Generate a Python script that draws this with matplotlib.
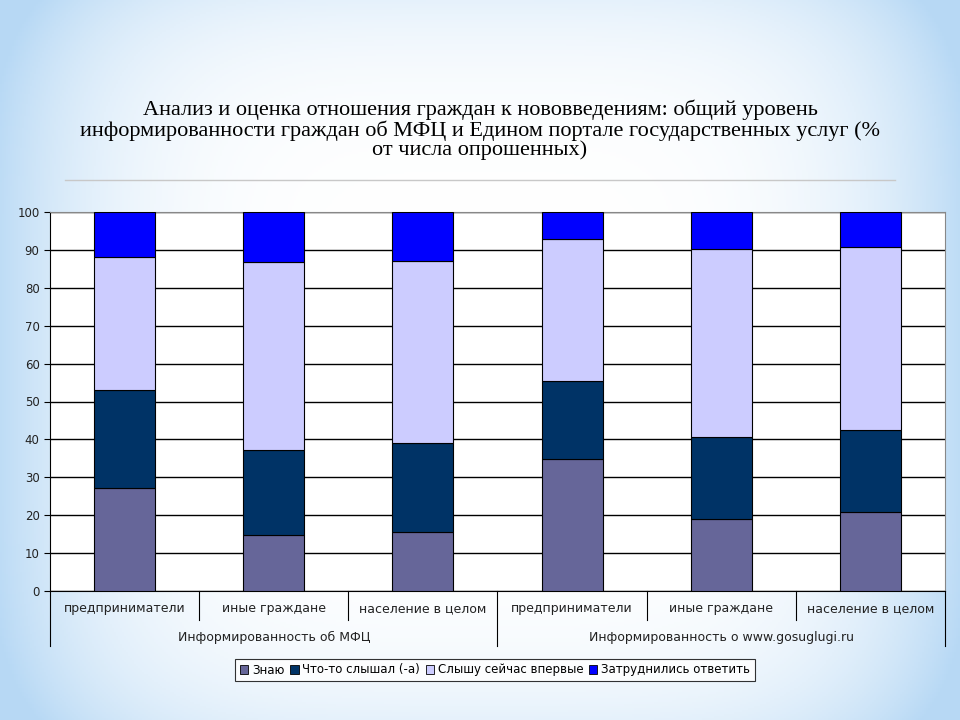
import numpy as np
import matplotlib.pyplot as plt
from matplotlib.patches import Patch
import matplotlib.transforms as mtransforms

# categories and groups
categories = ['предприниматели', 'иные граждане', 'население в целом',
              'предприниматели', 'иные граждане', 'население в целом']
groups = ['Информированность об МФЦ', 'Информированность о www.gosuglugi.ru']

# series values (% of respondents)
znayu = [27.1, 14.7, 15.6, 34.9, 18.9, 20.8]
slyshal = [25.9, 22.4, 23.4, 20.4, 21.8, 21.6]
vpervye = [35.2, 49.8, 48.0, 37.7, 49.6, 48.4]
zatrudn = [11.8, 13.1, 13.0, 7.0, 9.7, 9.2]

series_names = ['Знаю', 'Что-то слышал (-а)', 'Слышу сейчас впервые', 'Затруднились ответить']
colors = ['#666699', '#003366', '#CCCCFF', '#0000FF']

fig = plt.figure(figsize=(9.6, 7.2), dpi=100)

# slide background
bg = fig.add_axes([0, 0, 1, 1], zorder=-10)
xx, yy = np.meshgrid(np.linspace(-1, 1, 480), np.linspace(-1, 1, 360))
r = np.clip(np.abs(xx) ** 4 * 0.9 + np.abs(yy) ** 5 * 0.35, 0, 1)
white = np.array([1.0, 1.0, 1.0])
blue = np.array([0.72, 0.85, 0.96])
img = white[None, None, :] * (1 - r[..., None]) + blue[None, None, :] * r[..., None]
bg.imshow(img, aspect='auto', extent=[0, 1, 0, 1])
bg.set_xlim(0, 1)
bg.set_ylim(0, 1)
bg.axis('off')

# title
fig.text(0.5, 1 - 130 / 720, 'Анализ и оценка отношения граждан к нововведениям: общий уровень\n'
         'информированности граждан об МФЦ и Едином портале государственных услуг (%\n'
         'от числа опрошенных)', ha='center', va='center', fontsize=16,
         family='Liberation Serif', linespacing=0.98)
fig.add_artist(plt.Line2D([65 / 960, 895 / 960], [1 - 180 / 720, 1 - 180 / 720],
                          color='#c8c8c8', lw=1))

ax = fig.add_axes([50 / 960, 1 - 591 / 720, 895 / 960, 379 / 720])
ax.set_facecolor('white')
x = np.arange(len(categories))
bottom = np.zeros(len(categories))
for vals, name, c in zip([znayu, slyshal, vpervye, zatrudn], series_names, colors):
    ax.bar(x, vals, bottom=bottom, width=0.41, color=c, edgecolor='black',
           linewidth=0.8, label=name, zorder=3)
    bottom += np.array(vals)

ax.set_xlim(-0.5, len(categories) - 0.5)
ax.set_ylim(0, 100)
ax.set_yticks(range(0, 101, 10))
ax.yaxis.grid(True, color='black', lw=1, zorder=0)
ax.tick_params(axis='y', labelsize=8.5, length=4, color='black', labelcolor='#222222')
ax.tick_params(axis='x', length=0, labelsize=9, pad=8, labelcolor='#222222')
ax.set_xticks(x)
ax.set_xticklabels(categories)
ax.spines['top'].set_color('#888888')
ax.spines['right'].set_color('#888888')
ax.spines['left'].set_color('black')
ax.spines['bottom'].set_color('black')

# category axis separators
trans = mtransforms.blended_transform_factory(ax.transData, ax.transAxes)
for b in np.arange(-0.5, len(categories), 1.0):
    long_line = b in (-0.5, 2.5, 5.5)
    y2 = -0.145 if long_line else -0.077
    ax.plot([b, b], [0, y2], color='black', lw=0.8, transform=trans, clip_on=False)

for i, g in enumerate(groups):
    ax.text(1 + 3 * i, -0.123, g, transform=trans, ha='center', va='center',
            fontsize=9, color='#222222')

handles = [Patch(facecolor=c, edgecolor='black', lw=0.6) for c in colors]
leg = fig.legend(handles, series_names, loc='center', bbox_to_anchor=(495 / 960, 1 - 670 / 720),
                 ncol=4, fontsize=8.5, frameon=True, fancybox=False, handlelength=0.7,
                 handleheight=0.7, handletextpad=0.3, columnspacing=0.5, borderpad=0.4)
leg.get_frame().set_edgecolor('black')
leg.get_frame().set_linewidth(0.8)
leg.get_frame().set_facecolor('white')

plt.savefig('out.png', dpi=100)
